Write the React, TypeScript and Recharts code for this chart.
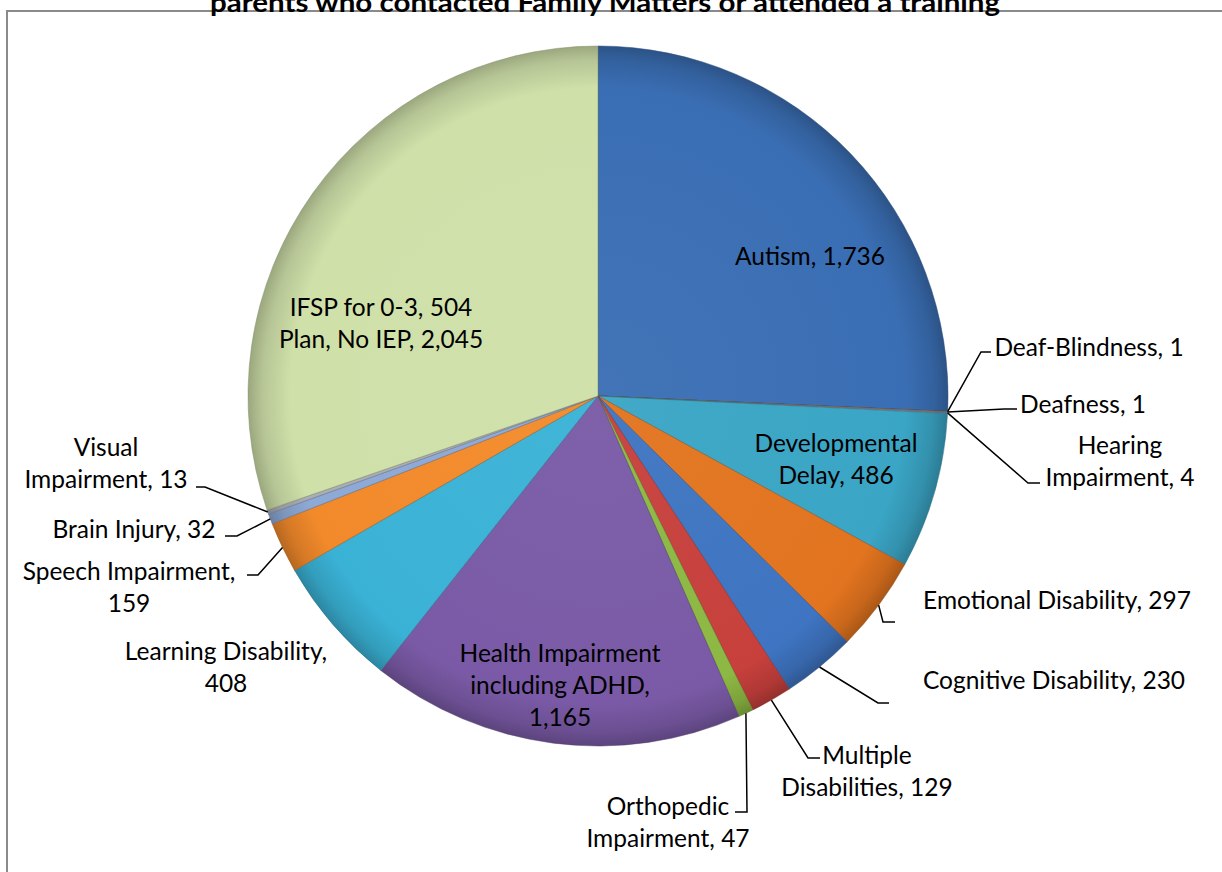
import React from 'react';
import { PieChart, Pie, Cell } from 'recharts';

// ---------- data ----------
const categories: string[] = [
  'Autism',
  'Deaf-Blindness',
  'Deafness',
  'Hearing Impairment',
  'Developmental Delay',
  'Emotional Disability',
  'Cognitive Disability',
  'Multiple Disabilities',
  'Orthopedic Impairment',
  'Health Impairment including ADHD',
  'Learning Disability',
  'Speech Impairment',
  'Brain Injury',
  'Visual Impairment',
  'IFSP for 0-3, 504 Plan, No IEP',
];
const counts: number[] = [1736, 1, 1, 4, 486, 297, 230, 129, 47, 1165, 408, 159, 32, 13, 2045];
const chartTitle = 'parents who contacted Family Matters or attended a training';

// ---------- styles ----------
const sliceColors: string[] = [
  '#3A6EB4', '#C0504D', '#9BBB59', '#8E8AA8', '#3AA5C5', '#E2741F', '#3E74C1',
  '#C7403C', '#8DB843', '#7A5AA6', '#3AB2D6', '#F28A2B', '#8DA9D6', '#A9ADB5', '#CFE0A9',
];

// label placement (text block centre x, first line centre y, word breaks, leader elbow/end)
type LabelLayout = { x: number; y: number; breaks: number[]; line?: [number, number][] };
const labelLayout: LabelLayout[] = [
  { x: 810, y: 255, breaks: [] },
  { x: 1089, y: 346, breaks: [], line: [[981, 352], [991, 352]] },
  { x: 1083, y: 403, breaks: [], line: [[1004, 409], [1017, 409]] },
  { x: 1120, y: 444, breaks: [1], line: [[1028, 483], [1040, 483]] },
  { x: 836, y: 442, breaks: [1] },
  { x: 1057, y: 599, breaks: [], line: [[883, 622], [895, 622]] },
  { x: 1054, y: 679, breaks: [], line: [[878, 703], [889, 703]] },
  { x: 867, y: 754, breaks: [1], line: [[808, 758], [820, 758]] },
  { x: 668, y: 805, breaks: [1], line: [[747, 812], [735, 812]] },
  { x: 560, y: 652, breaks: [2, 4] },
  { x: 226, y: 650, breaks: [2] },
  { x: 129, y: 570, breaks: [2], line: [[258, 575], [247, 575]] },
  { x: 134, y: 528, breaks: [], line: [[237, 536], [225, 536]] },
  { x: 106, y: 446, breaks: [1], line: [[205, 487], [196, 487]] },
  { x: 381, y: 306, breaks: [4] },
];

const FONT = 'Lato, "Open Sans", sans-serif';
const FONT_SIZE = 24.5;
const LINE_H = 32;
const CX = 598;
const CY = 396;
const R = 350;
const RADIAN = Math.PI / 180;

const data = categories.map((name, i) => ({ name, value: counts[i] }));

function shade(hex: string, f: number): string {
  const n = parseInt(hex.slice(1), 16);
  const r = (n >> 16) & 255, g = (n >> 8) & 255, b = n & 255;
  const m = (c: number) => Math.max(0, Math.min(255, Math.round(f < 0 ? c * (1 + f) : c + (255 - c) * f)));
  return `rgb(${m(r)},${m(g)},${m(b)})`;
}

const renderLabel = (props: any) => {
  const { cx, cy, midAngle, outerRadius, index } = props;
  const name = props.name ?? props.payload?.name;
  const value = props.value ?? props.payload?.value;
  const L = labelLayout[index];
  if (!L) return null;
  const words = `${name}, ${Number(value).toLocaleString('en-US')}`.split(' ');
  const lines: string[] = [];
  let prev = 0;
  [...L.breaks, words.length].forEach((b) => {
    lines.push(words.slice(prev, b).join(' '));
    prev = b;
  });
  let leader = null;
  if (L.line) {
    const sx = cx + outerRadius * Math.cos(-midAngle * RADIAN);
    const sy = cy + outerRadius * Math.sin(-midAngle * RADIAN);
    const pts = [[sx, sy], ...L.line].map((p) => p.join(',')).join(' ');
    leader = <polyline points={pts} fill="none" stroke="#000" strokeWidth={1.5} />;
  }
  return (
    <g key={`lbl-${index}`}>
      {leader}
      <text
        textAnchor="middle"
        fontFamily={FONT}
        fontSize={FONT_SIZE}
        fill="#000"
      >
        {lines.map((ln, i) => (
          <tspan key={i} x={L.x} y={L.y + i * LINE_H} dominantBaseline="central">
            {ln}
          </tspan>
        ))}
      </text>
    </g>
  );
};

export default function App() {
  return (
    <div
      style={{
        position: 'absolute',
        left: 0,
        top: 0,
        width: 1222,
        height: 872,
        overflow: 'hidden',
        background: '#fff',
      }}
    >
      <div
        style={{
          position: 'absolute',
          left: 6,
          top: 10,
          width: 1300,
          height: 950,
          borderLeft: '2px solid #8a8a8a',
          borderTop: '2px solid #8a8a8a',
          boxSizing: 'border-box',
        }}
      />
      <div style={{ position: 'absolute', left: 0, top: 0 }}>
        <PieChart width={1222} height={872} margin={{ top: 0, right: 0, bottom: 0, left: 0 }}>
          <defs>
            {sliceColors.map((c, i) => (
              <radialGradient
                key={i}
                id={`grad-${i}`}
                gradientUnits="userSpaceOnUse"
                cx={CX}
                cy={CY}
                r={R}
              >
                <stop offset="0%" stopColor={shade(c, 0.04)} />
                <stop offset="88%" stopColor={c} />
                <stop offset="96%" stopColor={shade(c, -0.12)} />
                <stop offset="100%" stopColor={shade(c, -0.25)} />
              </radialGradient>
            ))}
          </defs>
          <Pie
            data={data}
            dataKey="value"
            nameKey="name"
            cx={CX}
            cy={CY}
            outerRadius={R}
            startAngle={90}
            endAngle={-270}
            isAnimationActive={false}
            label={renderLabel}
            labelLine={false}
          >
            {data.map((d, i) => (
              <Cell
                key={d.name}
                fill={`url(#grad-${i})`}
                stroke={shade(sliceColors[i], -0.35)}
                strokeOpacity={0.5}
                strokeWidth={1}
              />
            ))}
          </Pie>
        </PieChart>
      </div>
      <svg
        width={1222}
        height={872}
        style={{ position: 'absolute', left: 0, top: 0, pointerEvents: 'none' }}
      >
        <text
          x={605}
          y={12}
          textAnchor="middle"
          fontFamily={FONT}
          fontWeight="bold"
          fontSize={27}
          textLength={790}
          lengthAdjust="spacingAndGlyphs"
          fill="#000"
        >
          {chartTitle}
        </text>
      </svg>
    </div>
  );
}
